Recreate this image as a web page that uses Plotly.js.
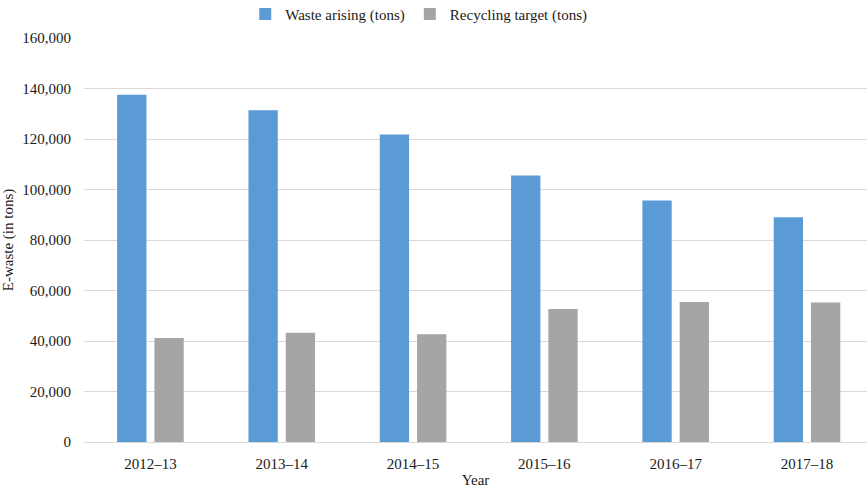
<!DOCTYPE html>
<html>
<head>
<meta charset="utf-8">
<script src="https://cdn.plot.ly/plotly-3.0.1.min.js"></script>
<style>
  html, body { margin: 0; padding: 0; background: #ffffff; }
  #chart { width: 867px; height: 488px; }
</style>
</head>
<body>
<div id="chart"></div>
<script>
// Financial years on the category axis
const years = ['2012\u201313', '2013\u201314', '2014\u201315', '2015\u201316', '2016\u201317', '2017\u201318'];

// E-waste arising each year (tons)
const wasteArising = [137500, 131400, 121800, 105500, 95600, 89000];

// Recycling target each year (tons)
const recyclingTarget = [41200, 43300, 42700, 52700, 55400, 55200];

// Value axis ticks
const yTickValues = [0, 20000, 40000, 60000, 80000, 100000, 120000, 140000, 160000];

const FONT = 'Liberation Serif, Times New Roman, serif';
const TEXT = '#1a1a1a';

const traces = [
  {
    type: 'bar',
    name: 'Waste arising (tons)',
    x: years,
    y: wasteArising,
    marker: { color: '#5b9bd5' },
    hoverinfo: 'skip'
  },
  {
    type: 'bar',
    name: 'Recycling target (tons)',
    x: years,
    y: recyclingTarget,
    marker: { color: '#a5a5a5' },
    hoverinfo: 'skip'
  }
];

const layout = {
  width: 867,
  height: 488,
  margin: { l: 84, r: 0, t: 38, b: 46, pad: 0 },
  paper_bgcolor: '#ffffff',
  plot_bgcolor: '#ffffff',
  font: { family: FONT, size: 15, color: TEXT },
  barmode: 'group',
  bargap: 0.432,
  bargroupgap: 0.214,
  showlegend: true,
  legend: {
    orientation: 'h',
    xref: 'paper',
    yref: 'container',
    x: 0.4275,
    xanchor: 'center',
    y: 0.971,
    yanchor: 'middle',
    font: { family: FONT, size: 15, color: TEXT },
    itemwidth: 30,
    tracegroupgap: 0
  },
  xaxis: {
    type: 'category',
    range: [-0.506, 5.457],
    showgrid: false,
    showline: true,
    linecolor: '#d9d9d9',
    linewidth: 1,
    ticks: '',
    ticklabelstandoff: 8,
    tickfont: { family: FONT, size: 15, color: TEXT },
    title: { text: 'Year', font: { family: FONT, size: 15, color: TEXT }, standoff: 5 },
    fixedrange: true
  },
  yaxis: {
    range: [0, 160000],
    tickvals: yTickValues,
    tickformat: ',d',
    showgrid: true,
    gridcolor: '#d9d9d9',
    gridwidth: 1,
    zeroline: false,
    showline: false,
    ticks: '',
    ticklabelstandoff: 12,
    tickfont: { family: FONT, size: 15, color: TEXT },
    title: { text: 'E-waste (in tons)', font: { family: FONT, size: 15, color: TEXT }, standoff: 5 },
    fixedrange: true
  }
};

Plotly.newPlot('chart', traces, layout, { displayModeBar: false, staticPlot: true });
</script>
</body>
</html>
